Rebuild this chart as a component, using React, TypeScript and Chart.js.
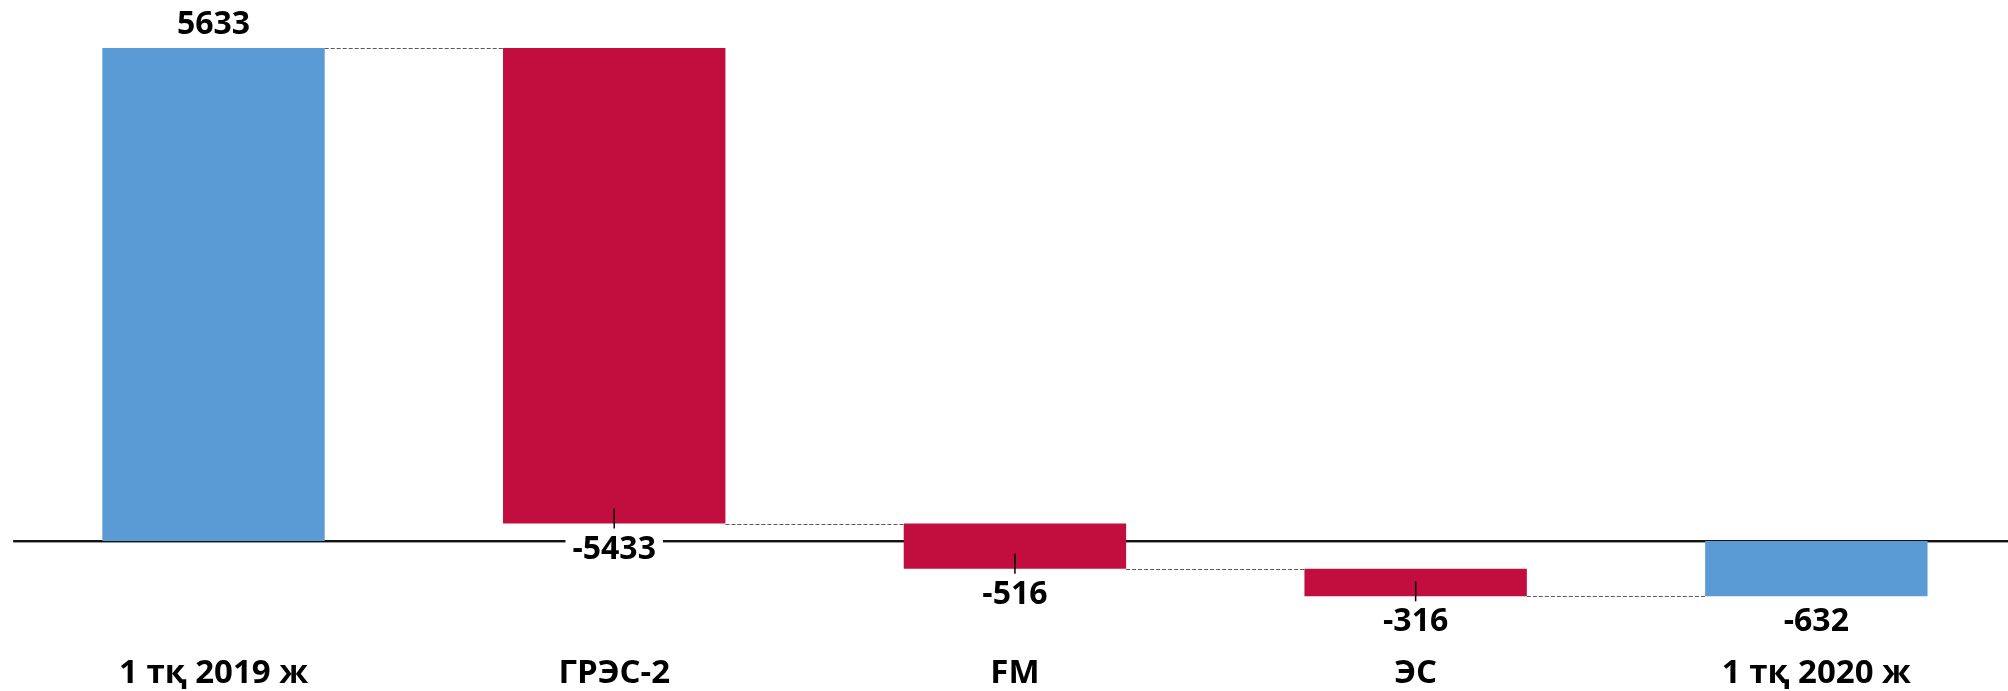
import { useEffect, useRef } from "react";
import { Chart, registerables } from "chart.js";

Chart.register(...registerables);

const categories = ["1 тқ 2019 ж", "ГРЭС-2", "FM", "ЭС", "1 тқ 2020 ж"];
const changes = [5633, -5433, -516, -316, -632];
const isTotal = [true, false, false, false, true];
const valueLabels = ["5633", "-5433", "-516", "-316", "-632"];
const yMin = -1500;
const yMax = 6000;

const BLUE = "#5B9BD5";
const RED = "#C20E3F";
const VALUE_FONT = 'bold 32px "Open Sans", "Noto Sans", sans-serif';
const CAT_FONT = 'bold 33px "Open Sans", "Noto Sans", sans-serif';

function buildRanges(): [number, number][] {
  let running = 0;
  return changes.map((c, i) => {
    if (isTotal[i]) {
      running = c;
      return [0, c] as [number, number];
    }
    const r: [number, number] = [running, running + c];
    running += c;
    return r;
  });
}

export default function App() {
  const ref = useRef<HTMLCanvasElement | null>(null);

  useEffect(() => {
    const canvas = ref.current;
    if (!canvas) return;
    const ranges = buildRanges();

    const waterfallPlugin = {
      id: "waterfallDecor",
      beforeDatasetsDraw(chart: any) {
        const { ctx, chartArea, scales } = chart;
        const y0 = scales.y.getPixelForValue(0);
        ctx.save();
        ctx.fillStyle = "#111111";
        ctx.fillRect(chartArea.left, y0 - 1, chartArea.right - chartArea.left, 2);
        ctx.fillStyle = "#9a9a9a";
        ctx.fillRect(chartArea.left, y0 + 1, chartArea.right - chartArea.left, 1);
        ctx.restore();
      },
      afterDatasetsDraw(chart: any) {
        const { ctx, chartArea, scales } = chart;
        const xs = scales.x;
        const ys = scales.y;
        const meta = chart.getDatasetMeta(0);
        ctx.save();
        // connectors
        ctx.strokeStyle = "#5a5a5a";
        ctx.lineWidth = 1;
        ctx.setLineDash([4, 2]);
        for (let i = 0; i < ranges.length - 1; i++) {
          const bar = meta.data[i];
          const next = meta.data[i + 1];
          const level = ranges[i][1];
          const y = Math.round(ys.getPixelForValue(level)) + 0.5;
          ctx.beginPath();
          ctx.moveTo(bar.x + bar.width / 2, y);
          ctx.lineTo(next.x - next.width / 2, y);
          ctx.stroke();
        }
        ctx.setLineDash([]);
        // leader ticks
        ctx.strokeStyle = "#000000";
        ctx.lineWidth = 1.5;
        ranges.forEach((r, i) => {
          if (isTotal[i]) return;
          const x = xs.getPixelForValue(i);
          const yEnd = ys.getPixelForValue(Math.min(r[0], r[1]));
          ctx.beginPath();
          ctx.moveTo(x, yEnd - 15);
          ctx.lineTo(x, yEnd + 5);
          ctx.stroke();
        });
        // value labels
        ctx.font = VALUE_FONT;
        ctx.textAlign = "center";
        ctx.textBaseline = "alphabetic";
        ranges.forEach((r, i) => {
          const x = xs.getPixelForValue(i);
          let base: number;
          if (changes[i] > 0) {
            base = ys.getPixelForValue(Math.max(r[0], r[1])) - 14;
          } else {
            base = ys.getPixelForValue(Math.min(r[0], r[1])) + 35;
          }
          const w = ctx.measureText(valueLabels[i]).width;
          ctx.fillStyle = "#ffffff";
          ctx.fillRect(x - w / 2 - 7, base - 25, w + 14, 30);
          ctx.fillStyle = "#000000";
          ctx.fillText(valueLabels[i], x, base);
        });
        // category labels
        ctx.font = CAT_FONT;
        categories.forEach((c, i) => {
          const x = xs.getPixelForValue(i);
          ctx.fillText(c, x, chartArea.bottom + 11);
        });
        ctx.restore();
      },
    };

    const chart = new Chart(canvas, {
      type: "bar",
      data: {
        labels: categories,
        datasets: [
          {
            data: ranges as any,
            backgroundColor: isTotal.map((t) => (t ? BLUE : RED)),
            borderWidth: 0,
            barPercentage: 1,
            categoryPercentage: 0.555,
          },
        ],
      },
      options: {
        responsive: false,
        animation: false,
        devicePixelRatio: 1,
        layout: { padding: { left: 13.15, right: 3.3, top: 15.9, bottom: 18.7 } },
        plugins: { legend: { display: false }, tooltip: { enabled: false } },
        scales: {
          x: { display: false },
          y: { display: false, min: yMin, max: yMax },
        },
      },
      plugins: [waterfallPlugin],
    });
    return () => chart.destroy();
  }, []);

  return (
    <div
      style={{
        position: "fixed",
        left: 0,
        top: 0,
        width: 2008,
        height: 691,
        overflow: "hidden",
        background: "#ffffff",
      }}
    >
      <canvas ref={ref} width={2020} height={691} style={{ width: 2020, height: 691, display: "block" }} />
    </div>
  );
}
